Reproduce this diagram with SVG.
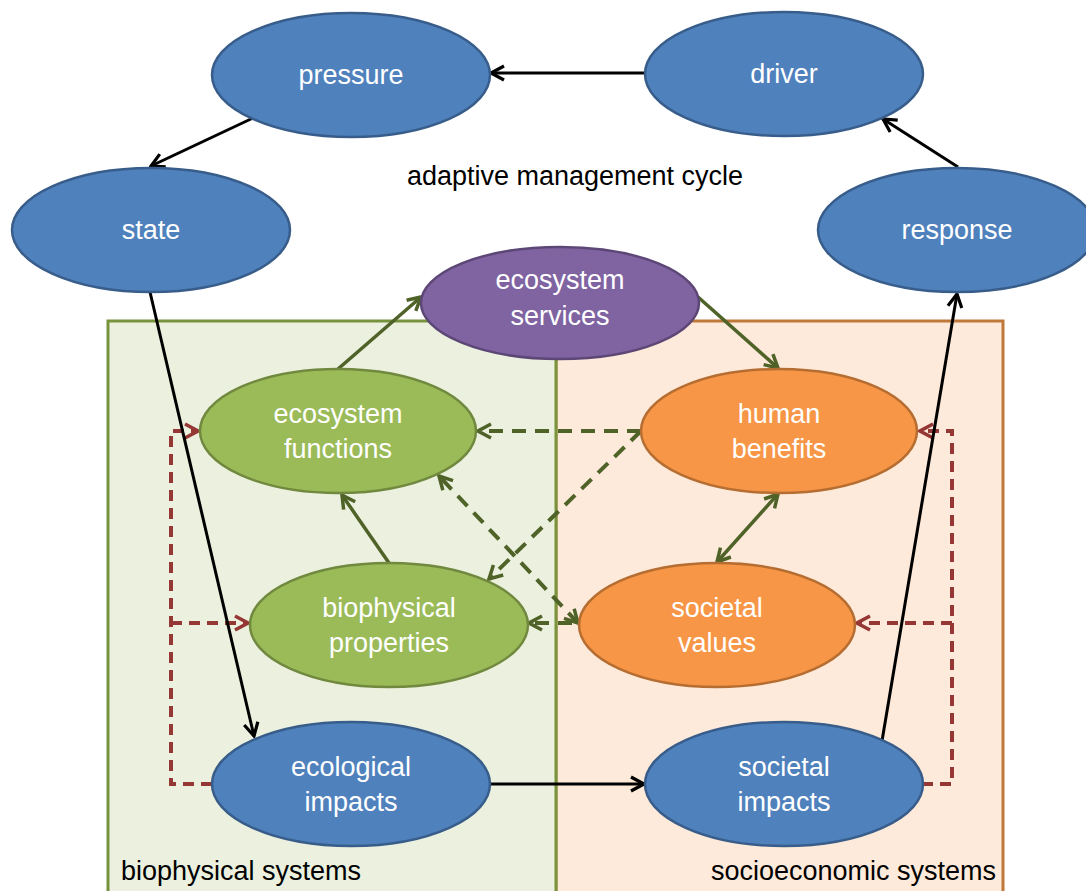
<svg xmlns="http://www.w3.org/2000/svg" width="1086" height="891" viewBox="0 0 1086 891">
<style>
text{font-family:"Liberation Sans",Arial,sans-serif;font-size:27px}
.lbl{fill:#fff;text-anchor:middle}
.cap{fill:#000}
.blue{fill:#4F81BD;stroke:#385D8A;stroke-width:2.5}
.green{fill:#9BBB59;stroke:#71893F;stroke-width:2.5}
.orange{fill:#F79646;stroke:#B66D31;stroke-width:2.5}
.purple{fill:#8064A2;stroke:#5C4776;stroke-width:2.5}
.blk{stroke:#000;stroke-width:3;fill:none;marker-end:url(#mb)}
.gs{stroke:#4F6228;stroke-width:3.5;fill:none;marker-end:url(#mg)}
.gd{stroke:#4F6228;stroke-width:4;fill:none;stroke-dasharray:14 9;marker-end:url(#mg)}
.rd{stroke:#953735;stroke-width:4;fill:none;stroke-dasharray:11 7}
</style>
<defs>
<marker id="mb" viewBox="0 0 18 18" refX="16" refY="9" markerWidth="18" markerHeight="18" markerUnits="userSpaceOnUse" orient="auto-start-reverse"><path d="M3,2 L16,9 L3,16" fill="none" stroke="#000" stroke-width="3.2"/></marker>
<marker id="mg" viewBox="0 0 18 18" refX="16" refY="9" markerWidth="18" markerHeight="18" markerUnits="userSpaceOnUse" orient="auto-start-reverse"><path d="M3,2 L16,9 L3,16" fill="none" stroke="#4F6228" stroke-width="3.5"/></marker>
<marker id="mr" viewBox="0 0 18 18" refX="16" refY="9" markerWidth="18" markerHeight="18" markerUnits="userSpaceOnUse" orient="auto-start-reverse"><path d="M3,2 L16,9 L3,16" fill="none" stroke="#953735" stroke-width="3.5"/></marker>
</defs>
<rect width="1086" height="891" fill="#fff"/>
<g id="panels">
<rect x="556" y="321" width="447" height="600" fill="#FDEADA" stroke="#C0783A" stroke-width="3"/>
<rect x="108" y="321" width="448" height="600" fill="#EBF1DE" stroke="#77933C" stroke-width="3"/>
</g>
<g id="connectors">
<path class="rd" d="M212,784 H171 V431 H198" marker-end="url(#mr)"/>
<path class="rd" d="M171,623 H248" marker-end="url(#mr)"/>
<path class="rd" d="M922,784 H952 V431 H920" marker-end="url(#mr)"/>
<path class="rd" d="M952,623 H857" marker-end="url(#mr)"/>
<line class="blk" x1="645" y1="73" x2="491" y2="73"/>
<line class="blk" x1="253" y1="118" x2="151" y2="166"/>
<line class="blk" x1="150" y1="292" x2="254" y2="736"/>
<line class="blk" x1="490" y1="784" x2="644" y2="784"/>
<line class="blk" x1="882" y1="741" x2="957" y2="294"/>
<line class="blk" x1="958" y1="167" x2="883" y2="119"/>
<line class="gs" x1="338" y1="369" x2="421" y2="297"/>
<line class="gs" x1="698" y1="297" x2="778" y2="368"/>
<line class="gs" x1="389" y1="563" x2="342" y2="495"/>
<line class="gs" x1="717" y1="562" x2="778" y2="494" marker-start="url(#mg)"/>
<line class="gd" x1="641" y1="431" x2="478" y2="431"/>
<line class="gd" x1="641" y1="431" x2="489" y2="579"/>
<line class="gd" x1="578" y1="623" x2="439" y2="476" marker-start="url(#mg)"/>
<line class="gd" x1="572" y1="623" x2="529" y2="623"/>
</g>
<g id="n-pressure"><ellipse class="blue" cx="351" cy="75" rx="139" ry="62"/><text class="lbl" x="351" y="84">pressure</text></g>
<g id="n-driver"><ellipse class="blue" cx="784" cy="74" rx="139" ry="62"/><text class="lbl" x="784" y="83">driver</text></g>
<g id="n-state"><ellipse class="blue" cx="151" cy="230" rx="139" ry="62"/><text class="lbl" x="151" y="239">state</text></g>
<g id="n-response"><ellipse class="blue" cx="957" cy="230" rx="139" ry="62"/><text class="lbl" x="957" y="239">response</text></g>
<g id="n-services"><ellipse class="purple" cx="560" cy="303" rx="139" ry="56"/><text class="lbl" x="560" y="289">ecosystem</text><text class="lbl" x="560" y="325">services</text></g>
<g id="n-functions"><ellipse class="green" cx="338" cy="431" rx="138" ry="62"/><text class="lbl" x="338" y="423">ecosystem</text><text class="lbl" x="338" y="458">functions</text></g>
<g id="n-benefits"><ellipse class="orange" cx="779" cy="431" rx="138" ry="62"/><text class="lbl" x="779" y="423">human</text><text class="lbl" x="779" y="458">benefits</text></g>
<g id="n-biophysical"><ellipse class="green" cx="389" cy="625" rx="139" ry="62"/><text class="lbl" x="389" y="617">biophysical</text><text class="lbl" x="389" y="652">properties</text></g>
<g id="n-values"><ellipse class="orange" cx="717" cy="625" rx="138" ry="62"/><text class="lbl" x="717" y="617">societal</text><text class="lbl" x="717" y="652">values</text></g>
<g id="n-ecoimpacts"><ellipse class="blue" cx="351" cy="784" rx="139" ry="62"/><text class="lbl" x="351" y="776">ecological</text><text class="lbl" x="351" y="811">impacts</text></g>
<g id="n-socimpacts"><ellipse class="blue" cx="784" cy="784" rx="139" ry="62"/><text class="lbl" x="784" y="776">societal</text><text class="lbl" x="784" y="811">impacts</text></g>
<g id="captions">
<text class="cap" x="575" y="185" text-anchor="middle">adaptive management cycle</text>
<text class="cap" x="121" y="880">biophysical systems</text>
<text class="cap" x="711" y="880">socioeconomic systems</text>
</g>
</svg>
